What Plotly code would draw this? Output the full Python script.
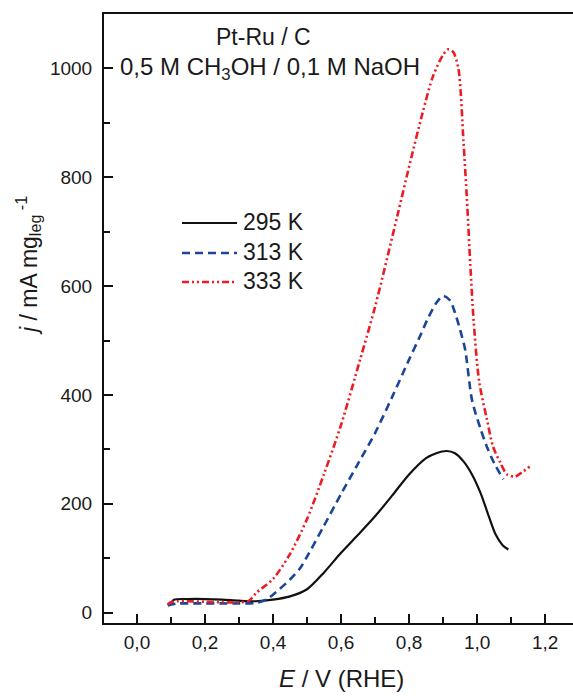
import plotly.graph_objects as go

# ---- data ----
black_x = [0.10, 0.11, 0.15, 0.20, 0.25, 0.30, 0.35, 0.40, 0.45, 0.50, 0.55, 0.60, 0.65, 0.70,
           0.75, 0.80, 0.85, 0.88, 0.91, 0.935, 0.96, 0.985, 1.01, 1.035, 1.055, 1.075, 1.092]
black_y = [18, 24, 25, 25, 24, 22, 21, 24, 30, 43, 74, 110, 143, 177,
           215, 254, 284, 293, 297, 293, 278, 254, 220, 176, 143, 124, 116]

blue_x = [0.09, 0.10, 0.12, 0.15, 0.20, 0.25, 0.30, 0.35, 0.38, 0.40, 0.45, 0.48, 0.50, 0.55,
          0.60, 0.65, 0.70, 0.75, 0.80, 0.83, 0.855, 0.88, 0.90, 0.92, 0.935, 0.95, 0.965,
          0.985, 1.01, 1.03, 1.05, 1.077]
blue_y = [13, 15, 17, 17, 17, 17, 17, 18, 24, 33, 61, 82, 103, 160,
          218, 274, 330, 396, 465, 505, 540, 569, 582, 574, 551, 520, 483,
          391, 338, 303, 275, 245]

red_x = [0.09, 0.10, 0.12, 0.15, 0.20, 0.25, 0.30, 0.33, 0.35, 0.40, 0.45, 0.50, 0.55, 0.60,
         0.656, 0.70, 0.765, 0.803, 0.84, 0.87, 0.90, 0.915, 0.93, 0.945, 0.96, 0.97, 0.98,
         0.99, 1.006, 1.029, 1.047, 1.068, 1.088, 1.112, 1.132, 1.156]
red_y = [15, 19, 21, 21, 20, 19, 19, 22, 36, 62, 108, 172, 255, 345,
         465, 562, 728, 827, 919, 985, 1025, 1035, 1030, 1000, 865, 760, 640,
         535, 425, 355, 305, 276, 254, 250, 258, 269]

series_names = ["295 K", "313 K", "333 K"]
x_tickvals = [0.0, 0.2, 0.4, 0.6, 0.8, 1.0, 1.2]
x_ticktext = ["0,0", "0,2", "0,4", "0,6", "0,8", "1,0", "1,2"]
y_tickvals = [0, 200, 400, 600, 800, 1000]
y_ticktext = ["0", "200", "400", "600", "800", "1000"]

# ---- styling ----
FONT = "Liberation Sans, Arial, sans-serif"
TXT = "#1a1a1a"
colors = ["#111111", "#1c4597", "#ec1c24"]
dashes = ["solid", "8px,5px", "7px,3px,2px,3px,2px,3px"]
widths = [2.2, 2.6, 2.6]

fig = go.Figure()
for xs, ys, c, d, w, n in zip([black_x, blue_x, red_x], [black_y, blue_y, red_y],
                              colors, dashes, widths, series_names):
    fig.add_trace(go.Scatter(x=xs, y=ys, mode="lines", name=n,
                             line=dict(color=c, dash=d, width=w, shape="spline", smoothing=0.8),
                             showlegend=False))

axis_common = dict(showline=True, linecolor="#111", linewidth=2, ticks="inside",
                   tickcolor="#111", tickwidth=2, ticklen=9, showgrid=False, zeroline=False,
                   tickfont=dict(family=FONT, size=19, color=TXT))

fig.update_xaxes(range=[-0.097, 1.282], tickvals=x_tickvals, ticktext=x_ticktext,
                 mirror=True, ticklabelstandoff=1,
                 minor=dict(dtick=0.1, tick0=0, ticks="inside", ticklen=6, tickwidth=2,
                            tickcolor="#111"),
                 **axis_common)
fig.update_yaxes(range=[-19, 1100], tickvals=y_tickvals, ticktext=y_ticktext,
                 mirror=False, ticklabelstandoff=6,
                 minor=dict(dtick=100, tick0=0, ticks="inside", ticklen=6, tickwidth=2,
                            tickcolor="#111"),
                 **axis_common)

L, R, T, B = 104, 0, 14, 73
W, H = 573, 696
pw, ph = W - L - R, H - T - B

def px(xp):
    return (xp - L) / pw

def py(yp):
    return (H - B - yp) / ph

ann_font = dict(family=FONT, size=23, color=TXT)
annotations = [
    dict(x=px(263), y=py(37), text="Pt-Ru / C"),
    dict(x=px(270), y=py(68), text="0,5 M CH<sub>3</sub>OH / 0,1 M NaOH",
         font=dict(family=FONT, size=24, color=TXT)),
    dict(x=px(341), y=py(679), text="<i>E</i> / V (RHE)", font=dict(family=FONT, size=24, color=TXT)),
    dict(x=px(28), y=py(266), text="<i>j</i> / mA mg<sub>leg</sub><sup> -1</sup>", textangle=-90,
         font=dict(family=FONT, size=23, color=TXT)),
]
for a in annotations:
    a.setdefault("font", ann_font)
    fig.add_annotation(xref="paper", yref="paper", showarrow=False,
                       xanchor="center", yanchor="middle", **a)

# manual legend
leg_y = [223, 253, 282]
for n, c, d, w, yy in zip(series_names, colors, dashes, widths, leg_y):
    fig.add_shape(type="line", xref="paper", yref="paper",
                  x0=px(182), x1=px(237), y0=py(yy), y1=py(yy),
                  line=dict(color=c, dash=d, width=w))
    fig.add_annotation(xref="paper", yref="paper", x=px(241), y=py(yy - 1), text=n,
                       showarrow=False, xanchor="left", yanchor="middle",
                       font=dict(family=FONT, size=23, color=TXT))

fig.update_layout(width=W, height=H, margin=dict(l=L, r=R, t=T, b=B, pad=0),
                  plot_bgcolor="white", paper_bgcolor="white", showlegend=False)

fig.write_html("out.html", config={"displayModeBar": False},
               post_script="document.body.style.margin='0';document.body.style.overflow='hidden';")
